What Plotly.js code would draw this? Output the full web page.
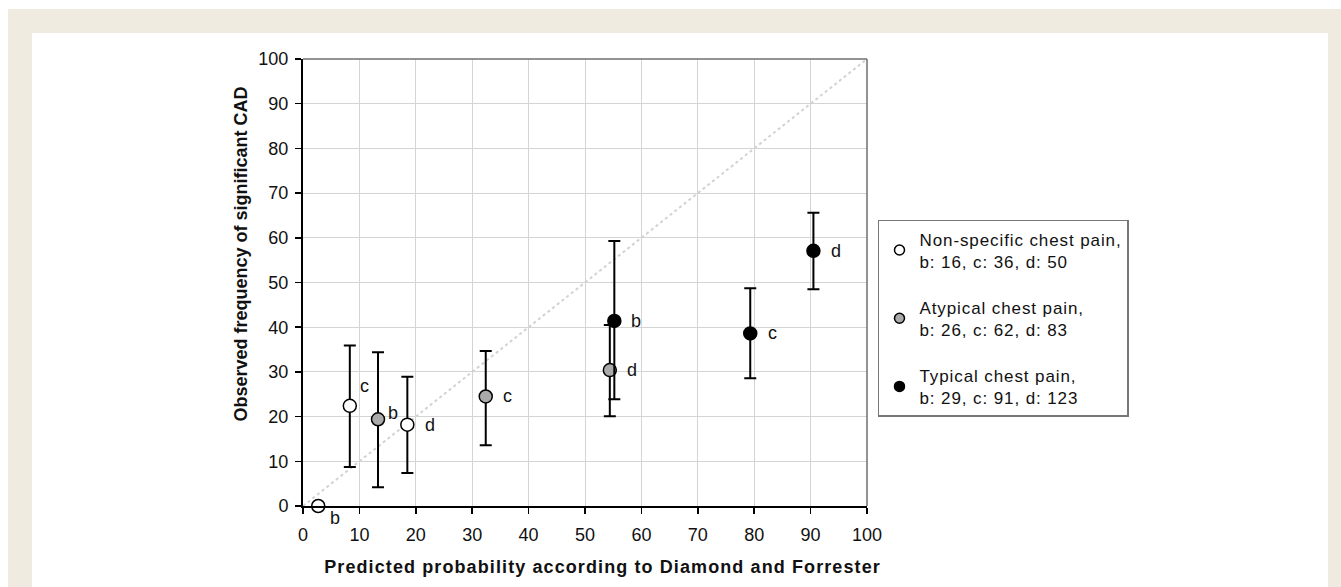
<!DOCTYPE html>
<html>
<head>
<meta charset="utf-8">
<script src="https://cdn.plot.ly/plotly-3.0.1.min.js"></script>
<style>
  html, body { margin: 0; padding: 0; background: #ffffff; width: 1341px; height: 587px; overflow: hidden; }
  #frame { position: absolute; left: 8px; top: 9px; width: 1333px; height: 578px; background: #efebe1; }
  #chart { position: absolute; left: 32px; top: 33px; width: 1296px; height: 554px; background: #ffffff; }
  .legendtext { letter-spacing: 0.9px; }
</style>
</head>
<body>
<div id="frame"></div>
<div id="chart"></div>
<script>
// ---- data ----
const seriesNames = [
  "Non-specific chest pain,<br>b: 16, c: 36, d: 50",
  "Atypical chest pain,<br>b: 26, c: 62, d: 83",
  "Typical chest pain,<br>b: 29, c: 91, d: 123"
];
const pointLabels = ["b", "c", "d"];

const nonSpecificX = [2.7, 8.3, 18.5];
const nonSpecificY = [0, 22.4, 18.2];
const nonSpecificLow = [null, 8.7, 7.4];
const nonSpecificHigh = [null, 35.9, 28.9];

const atypicalX = [13.3, 32.4, 54.4];
const atypicalY = [19.4, 24.5, 30.4];
const atypicalLow = [4.2, 13.6, 20.1];
const atypicalHigh = [34.4, 34.7, 40.5];

const typicalX = [55.2, 79.3, 90.5];
const typicalY = [41.4, 38.6, 57.1];
const typicalLow = [23.9, 28.6, 48.5];
const typicalHigh = [59.3, 48.7, 65.6];

const identityLine = [0, 100];
const axisTicks = [0, 10, 20, 30, 40, 50, 60, 70, 80, 90, 100];
const xTitle = "Predicted probability according to Diamond and Forrester";
const yTitle = "Observed frequency of significant CAD";

// ---- styling ----
const fills = ["#ffffff", "#aaaaaa", "#000000"];
// label offsets in px (dx, dy downwards), per series, per point
const labelOffsets = [
  [[17, 12], [15, -20], [23, 0]],
  [[15, -6], [22, 0], [22, 0]],
  [[22, 0], [22, 0], [23, 0]]
];

const groups = [
  {x: nonSpecificX, y: nonSpecificY, lo: nonSpecificLow, hi: nonSpecificHigh},
  {x: atypicalX, y: atypicalY, lo: atypicalLow, hi: atypicalHigh},
  {x: typicalX, y: typicalY, lo: typicalLow, hi: typicalHigh}
];

const traces = [{
  x: identityLine, y: identityLine, mode: "lines", type: "scatter",
  line: {color: "#d2d2d2", width: 2, dash: "dot"},
  showlegend: false, hoverinfo: "skip"
}];

const annotations = [];

groups.forEach((g, i) => {
  const plus = g.y.map((v, k) => g.hi[k] == null ? null : g.hi[k] - v);
  const minus = g.y.map((v, k) => g.lo[k] == null ? null : v - g.lo[k]);
  traces.push({
    x: g.x, y: g.y, type: "scatter", mode: "markers",
    name: seriesNames[i], showlegend: false, cliponaxis: false,
    marker: {size: 13, color: fills[i], line: {color: "#000000", width: 1.5}},
    error_y: {type: "data", symmetric: false, array: plus, arrayminus: minus,
              color: "#000000", thickness: 2, width: 6}
  });
  g.x.forEach((xv, k) => {
    annotations.push({
      x: xv, y: g.y[k], xref: "x", yref: "y", text: pointLabels[k],
      showarrow: false, xshift: labelOffsets[i][k][0], yshift: -labelOffsets[i][k][1],
      font: {size: 18, color: "#111111"}
    });
  });
});

// axis titles (placed as annotations so they can sit where the original puts them)
annotations.push({
  xref: "paper", yref: "paper", x: 0.5, y: 0, xshift: 17, yshift: -61,
  text: "<b>" + xTitle + "</b>", showarrow: false,
  font: {size: 18, color: "#111111"}, xanchor: "center", yanchor: "middle"
});
annotations.push({
  xref: "paper", yref: "paper", x: 0, y: 0.5, xshift: -63, yshift: 28,
  text: "<b>" + yTitle + "</b>", showarrow: false, textangle: -90,
  font: {size: 18, color: "#111111"}, xanchor: "center", yanchor: "middle"
});

// legend entries
groups.forEach((g, i) => {
  traces.push({
    x: [null], y: [null], type: "scatter", mode: "markers",
    name: seriesNames[i], legendgroup: "g" + i, showlegend: true,
    marker: {size: 10, color: fills[i], line: {color: "#000000", width: 1.5}}
  });
});

const layout = {
  width: 1296, height: 554,
  paper_bgcolor: "#ffffff", plot_bgcolor: "#ffffff",
  font: {family: "Liberation Sans, Arial, sans-serif", color: "#111111"},
  margin: {l: 271, r: 461, t: 26, b: 81, pad: 0},
  showlegend: true,
  legend: {
    x: 1.0195, xanchor: "left", y: 0.64, yanchor: "top",
    bgcolor: "#ffffff", bordercolor: "#777777", borderwidth: 1.5,
    font: {size: 17, color: "#111111"},
    traceorder: "grouped", tracegroupgap: 21,
    itemsizing: "trace", itemwidth: 30
  },
  xaxis: {
    range: [0, 100], tickvals: axisTicks, ticktext: axisTicks.map(String),
    showgrid: true, gridcolor: "#d4d4d4", gridwidth: 1,
    zeroline: false, showline: true, linecolor: "#000000", linewidth: 2,
    ticks: "outside", ticklen: 6, tickcolor: "#000000", tickwidth: 1.5,
    ticklabelstandoff: 5,
    tickfont: {size: 18, color: "#111111"}
  },
  yaxis: {
    range: [0, 100], tickvals: axisTicks, ticktext: axisTicks.map(String),
    showgrid: true, gridcolor: "#d4d4d4", gridwidth: 1,
    zeroline: false, showline: true, linecolor: "#000000", linewidth: 2,
    ticks: "outside", ticklen: 6, tickcolor: "#000000", tickwidth: 1.5,
    ticklabelstandoff: 3,
    tickfont: {size: 18, color: "#111111"}
  },
  shapes: [
    {type: "line", xref: "paper", yref: "paper", x0: 0, x1: 1, y0: 1, y1: 1,
     line: {color: "#6f6f6f", width: 1.5}},
    {type: "line", xref: "paper", yref: "paper", x0: 1, x1: 1, y0: 0, y1: 1,
     line: {color: "#6f6f6f", width: 1.5}}
  ],
  annotations: annotations
};

Plotly.newPlot("chart", traces, layout, {displayModeBar: false, staticPlot: true}).then(() => {
  document.querySelectorAll(".annotation-text").forEach(t => {
    if (t.textContent.indexOf("Predicted") === 0) t.style.letterSpacing = "1.1px";
  });
});
</script>
</body>
</html>
